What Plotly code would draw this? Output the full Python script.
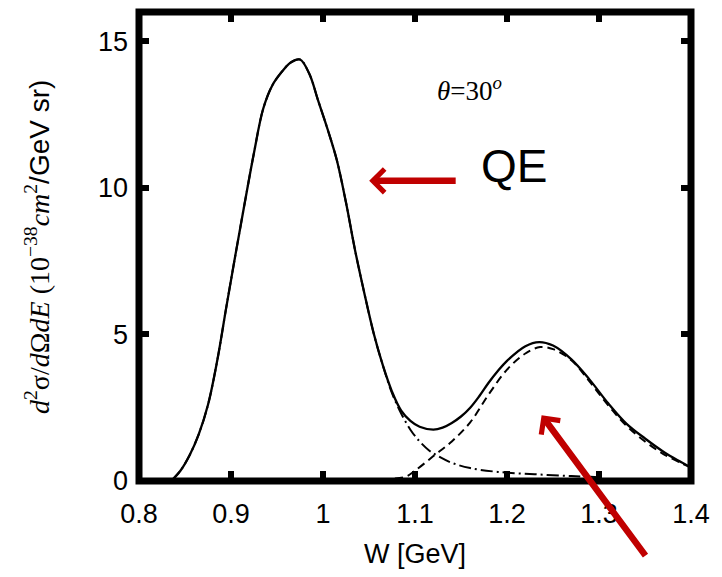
import plotly.graph_objects as go

# Invariant mass W [GeV] and double-differential cross sections (10^-38 cm^2/GeV sr)
w_total = [0.835, 0.845, 0.855, 0.865, 0.875, 0.885, 0.895, 0.905, 0.915, 0.925,
           0.935, 0.945, 0.955, 0.965, 0.975, 0.985, 0.995, 1.005, 1.015, 1.025,
           1.035, 1.045, 1.055, 1.065, 1.075, 1.085, 1.095, 1.105, 1.12, 1.13,
           1.14, 1.15, 1.16, 1.17, 1.18, 1.19, 1.20, 1.22, 1.235, 1.25, 1.27,
           1.29, 1.31, 1.33, 1.35, 1.37, 1.385, 1.40]
xs_total = [0.0, 0.35, 0.88, 1.6, 2.6, 4.1, 5.95, 7.75, 9.5, 11.2,
            12.7, 13.5, 13.95, 14.28, 14.38, 13.9, 12.95, 12.0, 10.95, 9.5,
            7.85, 6.4, 5.05, 3.95, 3.05, 2.4, 2.05, 1.85, 1.75, 1.82,
            1.98, 2.2, 2.5, 2.9, 3.35, 3.75, 4.1, 4.6, 4.74, 4.62, 4.15,
            3.45, 2.65, 1.95, 1.45, 1.0, 0.72, 0.47]

w_qe = [0.835, 0.845, 0.855, 0.865, 0.875, 0.885, 0.895, 0.905, 0.915, 0.925,
        0.935, 0.945, 0.955, 0.965, 0.975, 0.985, 0.995, 1.005, 1.015, 1.025,
        1.035, 1.045, 1.055, 1.065, 1.075, 1.085, 1.095, 1.105, 1.115, 1.125,
        1.14, 1.16, 1.19, 1.23, 1.27, 1.30]
xs_qe = [0.0, 0.35, 0.88, 1.6, 2.6, 4.1, 5.95, 7.75, 9.5, 11.2,
         12.7, 13.5, 13.95, 14.28, 14.38, 13.9, 12.95, 12.0, 10.95, 9.5,
         7.85, 6.4, 5.05, 3.95, 3.0, 2.3, 1.75, 1.35, 1.05, 0.85,
         0.62, 0.44, 0.31, 0.23, 0.17, 0.13]

w_delta = [1.05, 1.07, 1.09, 1.10, 1.12, 1.14, 1.16, 1.18, 1.20, 1.22, 1.236,
           1.25, 1.27, 1.29, 1.31, 1.33, 1.35, 1.37, 1.39, 1.40]
xs_delta = [0.0, 0.06, 0.15, 0.35, 0.85, 1.35, 2.0, 2.95, 3.8, 4.35, 4.57,
            4.5, 4.12, 3.38, 2.58, 1.88, 1.35, 0.92, 0.6, 0.45]

x_ticks = [0.8, 0.9, 1.0, 1.1, 1.2, 1.3, 1.4]
x_tick_text = ["0.8", "0.9", "1", "1.1", "1.2", "1.3", "1.4"]
y_ticks = [0, 5, 10, 15]

SANS = "Liberation Sans, Arial, sans-serif"
SERIF = "Liberation Serif, Times New Roman, serif"
RED = "#C00000"

fig = go.Figure()
fig.add_trace(go.Scatter(x=w_qe, y=xs_qe, mode="lines", line_shape="spline",
                         line=dict(color="black", width=2, dash="12px,4px,2px,4px")))
fig.add_trace(go.Scatter(x=w_delta, y=xs_delta, mode="lines", line_shape="spline",
                         line=dict(color="black", width=2, dash="8px,5px")))
fig.add_trace(go.Scatter(x=w_total, y=xs_total, mode="lines", line_shape="spline",
                         line=dict(color="black", width=2.3)))

# heavy frame around the plotting area
fig.add_shape(type="rect", xref="paper", yref="paper", x0=0, x1=1, y0=0, y1=1,
              line=dict(color="black", width=7), layer="above")

annotations = [
    dict(xref="paper", yref="paper", x=-0.184, y=0.5, textangle=-90,
         xanchor="center", yanchor="middle", showarrow=False,
         font=dict(family=SERIF, size=28, color="black"),
         text=("<i>d</i><sup>2</sup>σ/<i>d</i>Ω<i>dE</i> (10<sup>−38</sup><i>cm</i><sup>2</sup>"
               "<span style='font-family:Liberation Sans, Arial, sans-serif'>/GeV sr)</span>")),
    dict(xref="paper", yref="paper", x=0.5, y=-0.155, xanchor="center", yanchor="middle",
         showarrow=False, text="W [GeV]", font=dict(family=SANS, size=27, color="black")),
    dict(xref="x", yref="y", x=1.1596, y=13.37, xanchor="center", yanchor="middle",
         showarrow=False, text="<i>θ</i>=30<sup><i>o</i></sup>",
         font=dict(family=SERIF, size=27, color="black")),
    dict(xref="x", yref="y", x=1.2072, y=10.75, xanchor="center", yanchor="middle",
         showarrow=False, text="QE", font=dict(family=SANS, size=46, color="black")),
    # arrow pointing at the quasi-elastic peak
    dict(xref="x", yref="y", x=1.0502, y=10.24, ax=88, ay=0, text="",
         showarrow=True, arrowhead=4, arrowsize=0.7, arrowwidth=6.5,
         arrowcolor=RED, standoff=0, startstandoff=0),
    # arrow pointing at the Delta resonance
    dict(xref="x", yref="y", x=1.2376, y=2.245, ax=105, ay=142, text="",
         showarrow=True, arrowhead=4, arrowsize=0.7, arrowwidth=6.5,
         arrowcolor=RED, standoff=0, startstandoff=0),
]

fig.update_layout(
    width=722, height=577,
    margin=dict(l=139, r=29, t=12, b=96),
    paper_bgcolor="white", plot_bgcolor="white",
    showlegend=False,
    annotations=annotations,
    font=dict(family=SANS, size=27, color="black"),
)
fig.update_xaxes(range=[0.8, 1.4], tickvals=x_ticks, ticktext=x_tick_text,
                 ticks="inside", ticklen=10, tickwidth=6, tickcolor="black",
                 mirror="ticks", showgrid=False, zeroline=False, showline=False,
                 ticklabelstandoff=14,
                 tickfont=dict(family=SANS, size=27, color="black"))
fig.update_yaxes(range=[0, 16], tickvals=y_ticks,
                 ticks="inside", ticklen=10, tickwidth=6, tickcolor="black",
                 mirror="ticks", showgrid=False, zeroline=False, showline=False,
                 ticklabelstandoff=10,
                 tickfont=dict(family=SANS, size=27, color="black"))

fig.write_html("out.html")
